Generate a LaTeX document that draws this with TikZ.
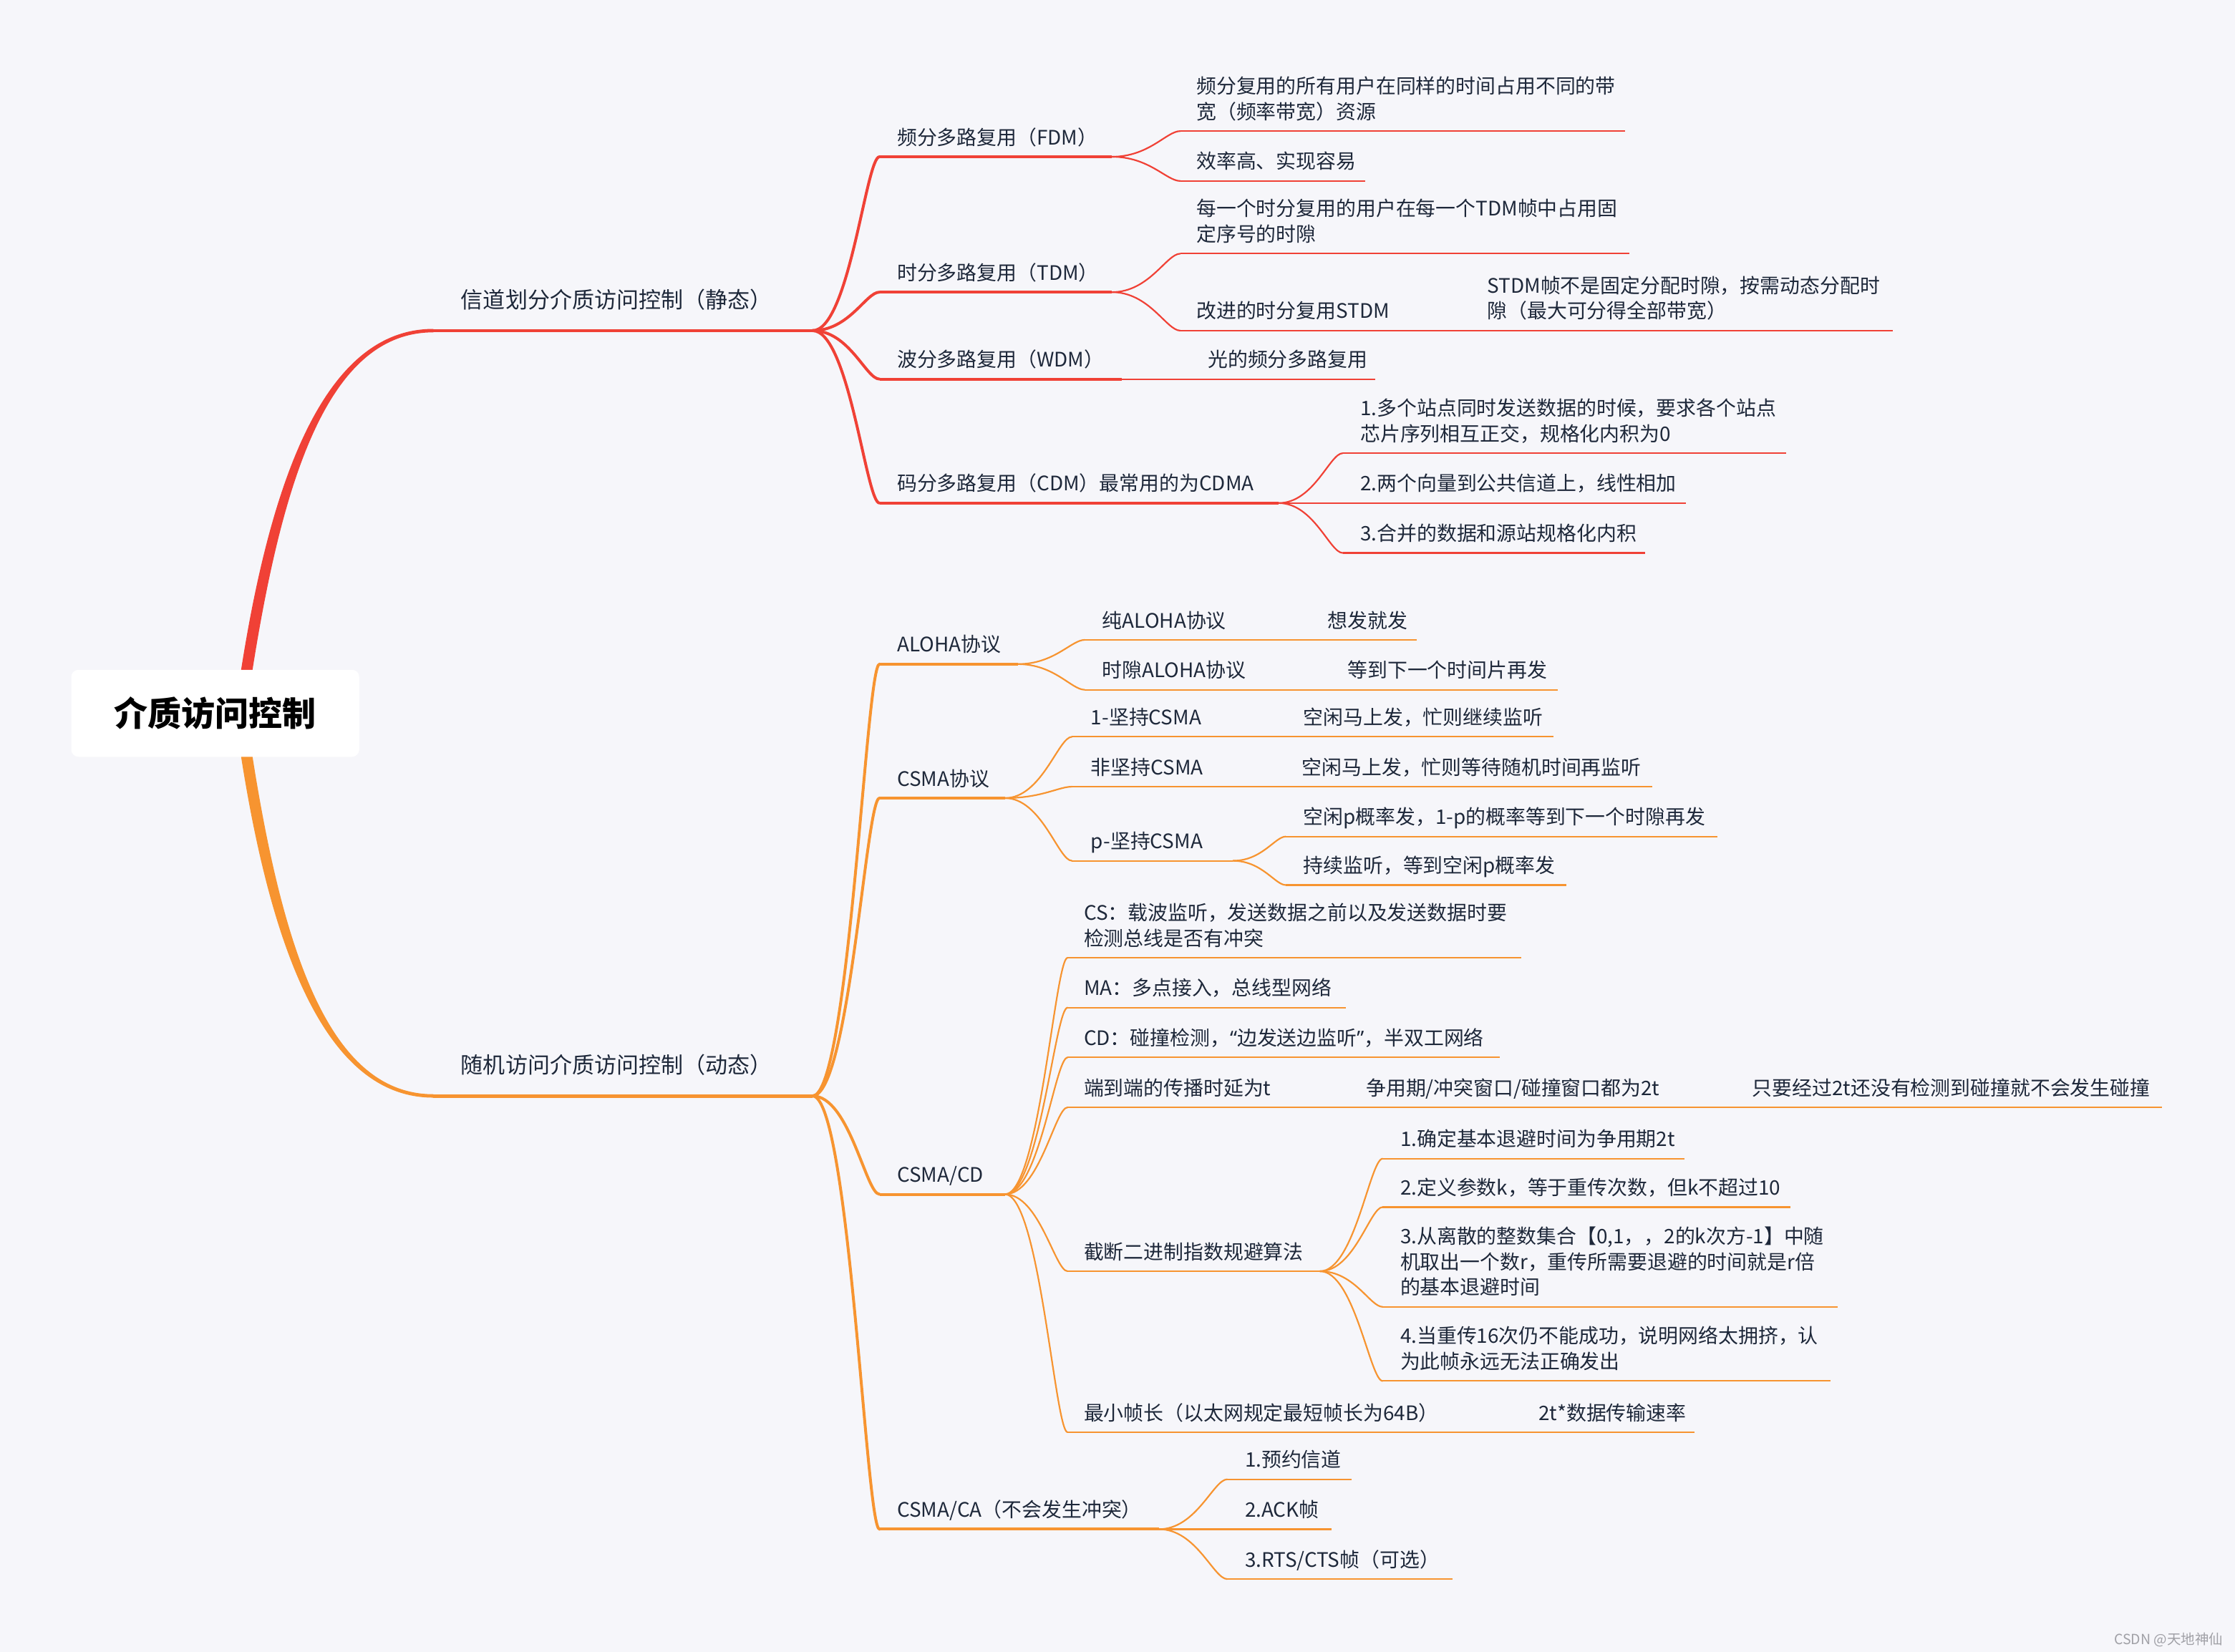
\documentclass[tikz,border=0pt]{standalone}
\usepackage{fontspec}
\setmainfont{Noto Sans CJK SC}
\newfontfamily\latinq{Noto Sans}
\usetikzlibrary{calc}
\definecolor{bg}{RGB}{246,246,250}
\definecolor{redA}{RGB}{240,65,54}
\definecolor{orgA}{RGB}{247,148,48}
\definecolor{ink}{RGB}{30,40,58}
\definecolor{wmark}{RGB}{160,160,166}
\newcommand\mmtwo[2]{\vtop{\baselineskip=9pt\lineskiplimit=-20pt\hbox{#1}\hbox{#2}}}
\newcommand\mmthree[3]{\vtop{\baselineskip=9pt\lineskiplimit=-20pt\hbox{#1}\hbox{#2}\hbox{#3}}}
\newcommand\mmconn[3]{\draw[#1] let \p1=(#2), \p2=(#3) in (\p1) .. controls ({\x1+0.55*(\x2-\x1)},\y1) and ({\x1+0.8*(\x2-\x1)},\y2) .. (\p2);}
\newcommand\mmline[5]{\coordinate (#1S) at (#3,#5); \coordinate (#1E) at (#4,#5); \draw[#2] (#1S) -- (#1E);}
\begin{document}
\begin{tikzpicture}[x=0.5pt,y=-0.5pt,
  txt/.style={anchor=base west,inner sep=0pt,text=ink,font=\fontsize{7}{9}\selectfont},
  lone/.style={anchor=base west,inner sep=0pt,text=ink,font=\fontsize{7.8}{10}\selectfont},
  l1r/.style={draw=redA,line width=1.2pt},
  l2r/.style={draw=redA,line width=1pt},
  l3r/.style={draw=redA,line width=0.55pt},
  c2r/.style={draw=redA,line width=1pt,line cap=round},
  c3r/.style={draw=redA,line width=0.55pt,line cap=round},
  l1o/.style={draw=orgA,line width=1.2pt},
  l2o/.style={draw=orgA,line width=1pt},
  l3o/.style={draw=orgA,line width=0.55pt},
  c2o/.style={draw=orgA,line width=1pt,line cap=round},
  c3o/.style={draw=orgA,line width=0.55pt,line cap=round},
  rootbox/.style={fill=white,rounded corners=2.5pt,minimum width=101pt,minimum height=30.5pt,inner sep=0pt,text=black,font=\fontsize{11.8}{14}\selectfont\bfseries}
]
\useasboundingbox[fill=bg] (0,0) rectangle (1568,1159);

% ---------------- red branch ----------------
\coordinate (rt) at (173,470);
\mmline{mA}{l1r}{304}{570}{232}
\fill[redA] ($(rt)+(-4,1)$) .. controls ($(rt)+(18,-140)$) and ($(mAS)+(-74,-1.2)$) .. ($(mAS)+(0,-1.2)$) -- ($(mAS)+(0,1.2)$) .. controls ($(mAS)+(-72,1.2)$) and ($(rt)+(26,-139)$) .. ($(rt)+(4,1)$) -- cycle;
\node[lone] (mAT) at (323,216) {信道划分介质访问控制（静态）};

\mmline{fdm}{l2r}{617}{780}{110}
\mmconn{c2r}{mAE}{fdmS}
\node[txt] (fdmT) at (629,101.5) {频分多路复用（FDM）};
\mmline{fdmA}{l3r}{828}{1140}{92}
\mmconn{c3r}{fdmE}{fdmAS}
\node[txt] (fdmAT) at (839,65.5) {\mmtwo{频分复用的所有用户在同样的时间占用不同的带}{宽（频率带宽）资源}};
\mmline{fdmB}{l3r}{828}{958}{127}
\mmconn{c3r}{fdmE}{fdmBS}
\node[txt] (fdmBT) at (839,118.5) {效率高、实现容易};

\mmline{tdm}{l2r}{617}{780}{205}
\mmconn{c2r}{mAE}{tdmS}
\node[txt] (tdmT) at (629,196.5) {时分多路复用（TDM）};
\mmline{tdmA}{l3r}{828}{1143}{178}
\mmconn{c3r}{tdmE}{tdmAS}
\node[txt] (tdmAT) at (839,151.5) {\mmtwo{每一个时分复用的用户在每一个TDM帧中占用固}{定序号的时隙}};
\mmline{tdmB}{l3r}{828}{1030}{232}
\mmconn{c3r}{tdmE}{tdmBS}
\node[txt] (tdmBT) at (839,223.5) {改进的时分复用STDM};
\coordinate (stdmE) at (1328,232);
\draw[l3r] (tdmBE) -- (stdmE);
\node[txt] (stdmT) at (1043,205.5) {\mmtwo{STDM帧不是固定分配时隙，按需动态分配时}{隙（最大可分得全部带宽）}};

\mmline{wdm}{l2r}{617}{787}{266}
\mmconn{c2r}{mAE}{wdmS}
\node[txt] (wdmT) at (629,257.5) {波分多路复用（WDM）};
\coordinate (wdmAE) at (965,266);
\draw[l3r] (wdmE) -- (wdmAE);
\node[txt] (wdmAT) at (847,257.5) {光的频分多路复用};

\mmline{cdm}{l2r}{617}{897}{353}
\mmconn{c2r}{mAE}{cdmS}
\node[txt] (cdmT) at (629,344.5) {码分多路复用（CDM）最常用的为CDMA};
\mmline{cdmA}{l3r}{942}{1253}{318}
\mmconn{c3r}{cdmE}{cdmAS}
\node[txt] (cdmAT) at (954,291.5) {\mmtwo{1.多个站点同时发送数据的时候，要求各个站点}{芯片序列相互正交，规格化内积为0}};
\coordinate (cdmBE) at (1183,353);
\draw[l3r] (cdmE) -- (cdmBE);
\node[txt] (cdmBT) at (954,344.5) {2.两个向量到公共信道上，线性相加};
\mmline{cdmC}{l3r}{942}{1154}{388}
\mmconn{c3r}{cdmE}{cdmCS}
\node[txt] (cdmCT) at (954,379.5) {3.合并的数据和源站规格化内积};

% ---------------- orange branch ----------------
\coordinate (rb) at (173,531);
\mmline{mB}{l1o}{304}{570}{769}
\fill[orgA] ($(rb)+(-4,-1)$) .. controls ($(rb)+(18,140)$) and ($(mBS)+(-74,1.2)$) .. ($(mBS)+(0,1.2)$) -- ($(mBS)+(0,-1.2)$) .. controls ($(mBS)+(-72,-1.2)$) and ($(rb)+(26,139)$) .. ($(rb)+(4,-1)$) -- cycle;
\node[lone] (mBT) at (323,753) {随机访问介质访问控制（动态）};

\mmline{alo}{l2o}{617}{714}{466}
\mmconn{c2o}{mBE}{aloS}
\node[txt] (aloT) at (629,457.5) {ALOHA协议};
\mmline{aloA}{l3o}{761}{918}{449}
\mmconn{c3o}{aloE}{aloAS}
\node[txt] (aloAT) at (773,440.5) {纯ALOHA协议};
\coordinate (aloAAE) at (994,449);
\draw[l3o] (aloAE) -- (aloAAE);
\node[txt] (aloAAT) at (931,440.5) {想发就发};
\mmline{aloB}{l3o}{761}{932}{484}
\mmconn{c3o}{aloE}{aloBS}
\node[txt] (aloBT) at (773,475.5) {时隙ALOHA协议};
\coordinate (aloBBE) at (1093,484);
\draw[l3o] (aloBE) -- (aloBBE);
\node[txt] (aloBBT) at (945,475.5) {等到下一个时间片再发};

\mmline{csma}{l2o}{617}{705}{560}
\mmconn{c2o}{mBE}{csmaS}
\node[txt] (csmaT) at (629,551.5) {CSMA协议};
\mmline{csA}{l3o}{752}{901}{517}
\mmconn{c3o}{csmaE}{csAS}
\node[txt] (csAT) at (765,508.5) {1-坚持CSMA};
\coordinate (csAAE) at (1090,517);
\draw[l3o] (csAE) -- (csAAE);
\node[txt] (csAAT) at (914,508.5) {空闲马上发，忙则继续监听};
\mmline{csB}{l3o}{752}{900}{552}
\mmconn{c3o}{csmaE}{csBS}
\node[txt] (csBT) at (765,543.5) {非坚持CSMA};
\coordinate (csBBE) at (1159,552);
\draw[l3o] (csBE) -- (csBBE);
\node[txt] (csBBT) at (913,543.5) {空闲马上发，忙则等待随机时间再监听};
\mmline{csC}{l3o}{752}{865}{604}
\mmconn{c3o}{csmaE}{csCS}
\node[txt] (csCT) at (765,595.5) {p-坚持CSMA};
\mmline{csCA}{l3o}{902}{1205}{587}
\mmconn{c3o}{csCE}{csCAS}
\node[txt] (csCAT) at (914,578.5) {空闲p概率发，1-p的概率等到下一个时隙再发};
\mmline{csCB}{l3o}{902}{1099}{621}
\mmconn{c3o}{csCE}{csCBS}
\node[txt] (csCBT) at (914,612.5) {持续监听，等到空闲p概率发};

\mmline{cd}{l2o}{617}{705}{838}
\mmconn{c2o}{mBE}{cdS}
\node[txt] (cdT) at (629,829.5) {CSMA/CD};
\mmline{cdA}{l3o}{749}{1067}{672}
\mmconn{c3o}{cdE}{cdAS}
\node[txt] (cdAT) at (760,645.5) {\mmtwo{CS：载波监听，发送数据之前以及发送数据时要}{检测总线是否有冲突}};
\mmline{cdB}{l3o}{749}{944}{707}
\mmconn{c3o}{cdE}{cdBS}
\node[txt] (cdBT) at (760,698.5) {MA：多点接入，总线型网络};
\mmline{cdC}{l3o}{749}{1052}{742}
\mmconn{c3o}{cdE}{cdCS}
\node[txt] (cdCT) at (760,733.5) {CD：碰撞检测，{\latinq “}边发送边监听{\latinq ”}，半双工网络};
\mmline{cdD}{l3o}{749}{946}{777}
\mmconn{c3o}{cdE}{cdDS}
\node[txt] (cdDT) at (760,768.5) {端到端的传播时延为t};
\coordinate (cdDAE) at (1217,777);
\draw[l3o] (cdDE) -- (cdDAE);
\node[txt] (cdDAT) at (958,768.5) {争用期/冲突窗口/碰撞窗口都为2t};
\coordinate (cdDBE) at (1517,777);
\draw[l3o] (cdDAE) -- (cdDBE);
\node[txt] (cdDBT) at (1229,768.5) {只要经过2t还没有检测到碰撞就不会发生碰撞};
\mmline{cdK}{l3o}{749}{926}{892}
\mmconn{c3o}{cdE}{cdKS}
\node[txt] (cdKT) at (760,883.5) {截断二进制指数规避算法};
\mmline{bkA}{l3o}{970}{1182}{813}
\mmconn{c3o}{cdKE}{bkAS}
\node[txt] (bkAT) at (982,804.5) {1.确定基本退避时间为争用期2t};
\mmline{bkB}{l3o}{970}{1256}{847}
\mmconn{c3o}{cdKE}{bkBS}
\node[txt] (bkBT) at (982,838.5) {2.定义参数k，等于重传次数，但k不超过10};
\mmline{bkC}{l3o}{970}{1289}{917}
\mmconn{c3o}{cdKE}{bkCS}
\node[txt] (bkCT) at (982,872.5) {\mmthree{3.从离散的整数集合【0,1，，2的k次方-1】中随}{机取出一个数r，重传所需要退避的时间就是r倍}{的基本退避时间}};
\mmline{bkD}{l3o}{970}{1284}{969}
\mmconn{c3o}{cdKE}{bkDS}
\node[txt] (bkDT) at (982,942.5) {\mmtwo{4.当重传16次仍不能成功，说明网络太拥挤，认}{为此帧永远无法正确发出}};
\mmline{cdL}{l3o}{749}{1066}{1005}
\mmconn{c3o}{cdE}{cdLS}
\node[txt] (cdLT) at (760,996.5) {最小帧长（以太网规定最短帧长为64B）};
\coordinate (cdLAE) at (1189,1005);
\draw[l3o] (cdLE) -- (cdLAE);
\node[txt] (cdLAT) at (1079,996.5) {2t*数据传输速率};

\mmline{ca}{l2o}{617}{813}{1073}
\mmconn{c2o}{mBE}{caS}
\node[txt] (caT) at (629,1064.5) {CSMA/CA（不会发生冲突）};
\mmline{caA}{l3o}{861}{948}{1038}
\mmconn{c3o}{caE}{caAS}
\node[txt] (caAT) at (873,1029.5) {1.预约信道};
\coordinate (caBE) at (934,1073);
\draw[l3o] (caE) -- (caBE);
\node[txt] (caBT) at (873,1064.5) {2.ACK帧};
\mmline{caC}{l3o}{861}{1019}{1108}
\mmconn{c3o}{caE}{caCS}
\node[txt] (caCT) at (873,1099.5) {3.RTS/CTS帧（可选）};

% ---------------- root ----------------
\node[rootbox] (root) at (151,500.5) {介质访问控制};

\node[anchor=base east,inner sep=0pt,text=wmark,font=\fontsize{4.9}{6}\selectfont] (wm) at (1560,1154) {CSDN @天地神仙};
\end{tikzpicture}
\end{document}
